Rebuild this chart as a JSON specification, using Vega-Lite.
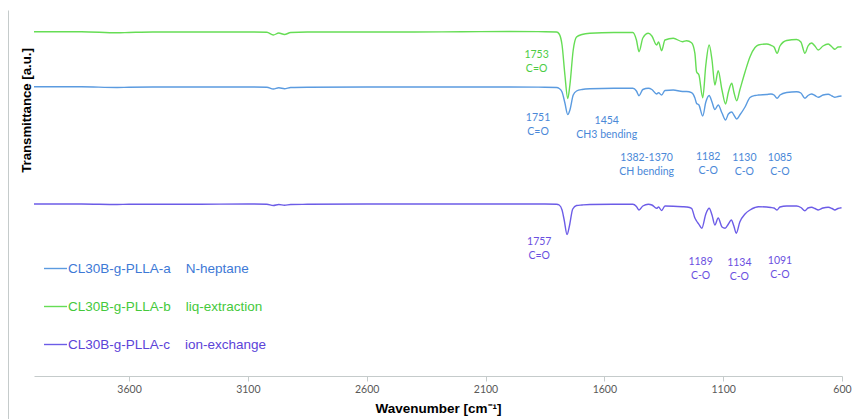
{
  "$schema": "https://vega.github.io/schema/vega-lite/v6.json",
  "width": 808,
  "height": 409,
  "autosize": {"type": "none"},
  "padding": {"left": 34, "top": 10, "right": 16, "bottom": 0},
  "background": "#ffffff",
  "config": {"view": {"stroke": null}},
  "datasets": {
    "spectra": [
      {"sample":"CL30B-g-PLLA-b","w":4000,"t":344.3},{"sample":"CL30B-g-PLLA-b","w":3800,"t":344.3},{"sample":"CL30B-g-PLLA-b","w":3650,"t":343.2},{"sample":"CL30B-g-PLLA-b","w":3600,"t":343.5},{"sample":"CL30B-g-PLLA-b","w":3500,"t":344},{"sample":"CL30B-g-PLLA-b","w":3300,"t":344},{"sample":"CL30B-g-PLLA-b","w":3100,"t":344},{"sample":"CL30B-g-PLLA-b","w":3020,"t":343.7},{"sample":"CL30B-g-PLLA-b","w":2993,"t":341},{"sample":"CL30B-g-PLLA-b","w":2970,"t":343},{"sample":"CL30B-g-PLLA-b","w":2946,"t":341.5},{"sample":"CL30B-g-PLLA-b","w":2920,"t":343.5},{"sample":"CL30B-g-PLLA-b","w":2850,"t":344},{"sample":"CL30B-g-PLLA-b","w":2600,"t":344},{"sample":"CL30B-g-PLLA-b","w":2400,"t":344},{"sample":"CL30B-g-PLLA-b","w":2200,"t":344.2},{"sample":"CL30B-g-PLLA-b","w":2000,"t":344.5},{"sample":"CL30B-g-PLLA-b","w":1850,"t":344.3},{"sample":"CL30B-g-PLLA-b","w":1801,"t":344},{"sample":"CL30B-g-PLLA-b","w":1790,"t":342},{"sample":"CL30B-g-PLLA-b","w":1778,"t":331},{"sample":"CL30B-g-PLLA-b","w":1766,"t":301},{"sample":"CL30B-g-PLLA-b","w":1754,"t":277.5},{"sample":"CL30B-g-PLLA-b","w":1745,"t":291},{"sample":"CL30B-g-PLLA-b","w":1731,"t":326},{"sample":"CL30B-g-PLLA-b","w":1717,"t":339},{"sample":"CL30B-g-PLLA-b","w":1694,"t":341.5},{"sample":"CL30B-g-PLLA-b","w":1661,"t":342.7},{"sample":"CL30B-g-PLLA-b","w":1560,"t":343.5},{"sample":"CL30B-g-PLLA-b","w":1480,"t":343.5},{"sample":"CL30B-g-PLLA-b","w":1465,"t":336},{"sample":"CL30B-g-PLLA-b","w":1454,"t":324.3},{"sample":"CL30B-g-PLLA-b","w":1438,"t":338},{"sample":"CL30B-g-PLLA-b","w":1415,"t":342.7},{"sample":"CL30B-g-PLLA-b","w":1400,"t":340},{"sample":"CL30B-g-PLLA-b","w":1380,"t":331},{"sample":"CL30B-g-PLLA-b","w":1372,"t":334},{"sample":"CL30B-g-PLLA-b","w":1359,"t":325.3},{"sample":"CL30B-g-PLLA-b","w":1345,"t":336},{"sample":"CL30B-g-PLLA-b","w":1310,"t":337.7},{"sample":"CL30B-g-PLLA-b","w":1271,"t":334.3},{"sample":"CL30B-g-PLLA-b","w":1254,"t":335.3},{"sample":"CL30B-g-PLLA-b","w":1233,"t":333.3},{"sample":"CL30B-g-PLLA-b","w":1219,"t":322.7},{"sample":"CL30B-g-PLLA-b","w":1212,"t":304.3},{"sample":"CL30B-g-PLLA-b","w":1202,"t":301},{"sample":"CL30B-g-PLLA-b","w":1186,"t":278.3},{"sample":"CL30B-g-PLLA-b","w":1173,"t":311},{"sample":"CL30B-g-PLLA-b","w":1159,"t":331},{"sample":"CL30B-g-PLLA-b","w":1147,"t":316},{"sample":"CL30B-g-PLLA-b","w":1135,"t":291},{"sample":"CL30B-g-PLLA-b","w":1121,"t":305.3},{"sample":"CL30B-g-PLLA-b","w":1105,"t":286},{"sample":"CL30B-g-PLLA-b","w":1090,"t":272},{"sample":"CL30B-g-PLLA-b","w":1078,"t":284},{"sample":"CL30B-g-PLLA-b","w":1064,"t":292.7},{"sample":"CL30B-g-PLLA-b","w":1055,"t":284},{"sample":"CL30B-g-PLLA-b","w":1043,"t":275.3},{"sample":"CL30B-g-PLLA-b","w":1030,"t":286},{"sample":"CL30B-g-PLLA-b","w":1008,"t":304},{"sample":"CL30B-g-PLLA-b","w":987,"t":319.3},{"sample":"CL30B-g-PLLA-b","w":966,"t":328.5},{"sample":"CL30B-g-PLLA-b","w":952,"t":331},{"sample":"CL30B-g-PLLA-b","w":917,"t":332},{"sample":"CL30B-g-PLLA-b","w":899,"t":330.7},{"sample":"CL30B-g-PLLA-b","w":886,"t":329},{"sample":"CL30B-g-PLLA-b","w":873,"t":322.7},{"sample":"CL30B-g-PLLA-b","w":861,"t":330},{"sample":"CL30B-g-PLLA-b","w":833,"t":335.5},{"sample":"CL30B-g-PLLA-b","w":791,"t":336.5},{"sample":"CL30B-g-PLLA-b","w":773,"t":334},{"sample":"CL30B-g-PLLA-b","w":756,"t":322.7},{"sample":"CL30B-g-PLLA-b","w":743,"t":330},{"sample":"CL30B-g-PLLA-b","w":728,"t":333},{"sample":"CL30B-g-PLLA-b","w":714,"t":330},{"sample":"CL30B-g-PLLA-b","w":700,"t":326},{"sample":"CL30B-g-PLLA-b","w":680,"t":330},{"sample":"CL30B-g-PLLA-b","w":658,"t":332},{"sample":"CL30B-g-PLLA-b","w":642,"t":329},{"sample":"CL30B-g-PLLA-b","w":630,"t":326.7},{"sample":"CL30B-g-PLLA-b","w":617,"t":329},{"sample":"CL30B-g-PLLA-b","w":602,"t":329.3},

      {"sample":"CL30B-g-PLLA-a","w":4000,"t":289.3},{"sample":"CL30B-g-PLLA-a","w":3800,"t":289.2},{"sample":"CL30B-g-PLLA-a","w":3650,"t":288.5},{"sample":"CL30B-g-PLLA-a","w":3600,"t":288.8},{"sample":"CL30B-g-PLLA-a","w":3500,"t":289},{"sample":"CL30B-g-PLLA-a","w":3300,"t":289},{"sample":"CL30B-g-PLLA-a","w":3100,"t":289},{"sample":"CL30B-g-PLLA-a","w":3020,"t":288.8},{"sample":"CL30B-g-PLLA-a","w":2993,"t":287},{"sample":"CL30B-g-PLLA-a","w":2970,"t":288.2},{"sample":"CL30B-g-PLLA-a","w":2946,"t":287.3},{"sample":"CL30B-g-PLLA-a","w":2920,"t":288.5},{"sample":"CL30B-g-PLLA-a","w":2850,"t":288.8},{"sample":"CL30B-g-PLLA-a","w":2600,"t":289},{"sample":"CL30B-g-PLLA-a","w":2400,"t":289},{"sample":"CL30B-g-PLLA-a","w":2200,"t":289},{"sample":"CL30B-g-PLLA-a","w":2000,"t":289},{"sample":"CL30B-g-PLLA-a","w":1850,"t":288.8},{"sample":"CL30B-g-PLLA-a","w":1801,"t":288.5},{"sample":"CL30B-g-PLLA-a","w":1790,"t":287.5},{"sample":"CL30B-g-PLLA-a","w":1778,"t":284},{"sample":"CL30B-g-PLLA-a","w":1766,"t":273},{"sample":"CL30B-g-PLLA-a","w":1754,"t":261.5},{"sample":"CL30B-g-PLLA-a","w":1745,"t":266},{"sample":"CL30B-g-PLLA-a","w":1731,"t":281},{"sample":"CL30B-g-PLLA-a","w":1717,"t":285},{"sample":"CL30B-g-PLLA-a","w":1694,"t":286.5},{"sample":"CL30B-g-PLLA-a","w":1661,"t":287.2},{"sample":"CL30B-g-PLLA-a","w":1560,"t":287.7},{"sample":"CL30B-g-PLLA-a","w":1480,"t":287.7},{"sample":"CL30B-g-PLLA-a","w":1465,"t":285},{"sample":"CL30B-g-PLLA-a","w":1454,"t":280.3},{"sample":"CL30B-g-PLLA-a","w":1438,"t":286.5},{"sample":"CL30B-g-PLLA-a","w":1415,"t":287.7},{"sample":"CL30B-g-PLLA-a","w":1400,"t":286.5},{"sample":"CL30B-g-PLLA-a","w":1380,"t":282},{"sample":"CL30B-g-PLLA-a","w":1372,"t":283.3},{"sample":"CL30B-g-PLLA-a","w":1359,"t":281},{"sample":"CL30B-g-PLLA-a","w":1345,"t":285.5},{"sample":"CL30B-g-PLLA-a","w":1310,"t":286},{"sample":"CL30B-g-PLLA-a","w":1271,"t":284.5},{"sample":"CL30B-g-PLLA-a","w":1254,"t":284.5},{"sample":"CL30B-g-PLLA-a","w":1233,"t":283.3},{"sample":"CL30B-g-PLLA-a","w":1219,"t":278},{"sample":"CL30B-g-PLLA-a","w":1212,"t":272.7},{"sample":"CL30B-g-PLLA-a","w":1202,"t":271},{"sample":"CL30B-g-PLLA-a","w":1186,"t":260},{"sample":"CL30B-g-PLLA-a","w":1173,"t":274},{"sample":"CL30B-g-PLLA-a","w":1159,"t":280.5},{"sample":"CL30B-g-PLLA-a","w":1147,"t":274},{"sample":"CL30B-g-PLLA-a","w":1135,"t":266.5},{"sample":"CL30B-g-PLLA-a","w":1121,"t":271},{"sample":"CL30B-g-PLLA-a","w":1105,"t":263},{"sample":"CL30B-g-PLLA-a","w":1090,"t":256},{"sample":"CL30B-g-PLLA-a","w":1078,"t":262},{"sample":"CL30B-g-PLLA-a","w":1064,"t":264},{"sample":"CL30B-g-PLLA-a","w":1055,"t":261},{"sample":"CL30B-g-PLLA-a","w":1043,"t":257},{"sample":"CL30B-g-PLLA-a","w":1030,"t":261},{"sample":"CL30B-g-PLLA-a","w":1008,"t":269},{"sample":"CL30B-g-PLLA-a","w":987,"t":278.5},{"sample":"CL30B-g-PLLA-a","w":966,"t":280.5},{"sample":"CL30B-g-PLLA-a","w":952,"t":281},{"sample":"CL30B-g-PLLA-a","w":917,"t":281.5},{"sample":"CL30B-g-PLLA-a","w":899,"t":282},{"sample":"CL30B-g-PLLA-a","w":886,"t":281},{"sample":"CL30B-g-PLLA-a","w":873,"t":277.7},{"sample":"CL30B-g-PLLA-a","w":861,"t":281},{"sample":"CL30B-g-PLLA-a","w":833,"t":283.5},{"sample":"CL30B-g-PLLA-a","w":791,"t":284.3},{"sample":"CL30B-g-PLLA-a","w":773,"t":283},{"sample":"CL30B-g-PLLA-a","w":756,"t":277.7},{"sample":"CL30B-g-PLLA-a","w":743,"t":280.5},{"sample":"CL30B-g-PLLA-a","w":728,"t":282},{"sample":"CL30B-g-PLLA-a","w":714,"t":280.5},{"sample":"CL30B-g-PLLA-a","w":700,"t":278.7},{"sample":"CL30B-g-PLLA-a","w":680,"t":281},{"sample":"CL30B-g-PLLA-a","w":658,"t":281.8},{"sample":"CL30B-g-PLLA-a","w":642,"t":280},{"sample":"CL30B-g-PLLA-a","w":630,"t":278.7},{"sample":"CL30B-g-PLLA-a","w":617,"t":279.5},{"sample":"CL30B-g-PLLA-a","w":602,"t":280},

      {"sample":"CL30B-g-PLLA-c","w":4000,"t":172},{"sample":"CL30B-g-PLLA-c","w":3800,"t":172},{"sample":"CL30B-g-PLLA-c","w":3650,"t":171.5},{"sample":"CL30B-g-PLLA-c","w":3600,"t":171.7},{"sample":"CL30B-g-PLLA-c","w":3500,"t":171.7},{"sample":"CL30B-g-PLLA-c","w":3300,"t":171.8},{"sample":"CL30B-g-PLLA-c","w":3100,"t":172},{"sample":"CL30B-g-PLLA-c","w":3020,"t":171.8},{"sample":"CL30B-g-PLLA-c","w":2993,"t":170.5},{"sample":"CL30B-g-PLLA-c","w":2970,"t":171.5},{"sample":"CL30B-g-PLLA-c","w":2946,"t":170.8},{"sample":"CL30B-g-PLLA-c","w":2920,"t":171.5},{"sample":"CL30B-g-PLLA-c","w":2850,"t":171.7},{"sample":"CL30B-g-PLLA-c","w":2600,"t":172},{"sample":"CL30B-g-PLLA-c","w":2400,"t":172},{"sample":"CL30B-g-PLLA-c","w":2200,"t":172},{"sample":"CL30B-g-PLLA-c","w":2000,"t":172},{"sample":"CL30B-g-PLLA-c","w":1850,"t":172},{"sample":"CL30B-g-PLLA-c","w":1801,"t":171.8},{"sample":"CL30B-g-PLLA-c","w":1790,"t":171},{"sample":"CL30B-g-PLLA-c","w":1778,"t":166},{"sample":"CL30B-g-PLLA-c","w":1769,"t":156},{"sample":"CL30B-g-PLLA-c","w":1757,"t":141.5},{"sample":"CL30B-g-PLLA-c","w":1747,"t":150},{"sample":"CL30B-g-PLLA-c","w":1733,"t":167},{"sample":"CL30B-g-PLLA-c","w":1717,"t":170.5},{"sample":"CL30B-g-PLLA-c","w":1694,"t":171},{"sample":"CL30B-g-PLLA-c","w":1661,"t":171.5},{"sample":"CL30B-g-PLLA-c","w":1560,"t":171.7},{"sample":"CL30B-g-PLLA-c","w":1480,"t":171.7},{"sample":"CL30B-g-PLLA-c","w":1465,"t":169.5},{"sample":"CL30B-g-PLLA-c","w":1454,"t":166},{"sample":"CL30B-g-PLLA-c","w":1438,"t":170},{"sample":"CL30B-g-PLLA-c","w":1415,"t":171.7},{"sample":"CL30B-g-PLLA-c","w":1400,"t":171},{"sample":"CL30B-g-PLLA-c","w":1380,"t":167.7},{"sample":"CL30B-g-PLLA-c","w":1372,"t":169},{"sample":"CL30B-g-PLLA-c","w":1359,"t":165.5},{"sample":"CL30B-g-PLLA-c","w":1345,"t":170},{"sample":"CL30B-g-PLLA-c","w":1310,"t":169.8},{"sample":"CL30B-g-PLLA-c","w":1271,"t":169.3},{"sample":"CL30B-g-PLLA-c","w":1254,"t":169},{"sample":"CL30B-g-PLLA-c","w":1233,"t":167.7},{"sample":"CL30B-g-PLLA-c","w":1219,"t":158},{"sample":"CL30B-g-PLLA-c","w":1212,"t":155},{"sample":"CL30B-g-PLLA-c","w":1202,"t":151.7},{"sample":"CL30B-g-PLLA-c","w":1190,"t":147.7},{"sample":"CL30B-g-PLLA-c","w":1173,"t":162},{"sample":"CL30B-g-PLLA-c","w":1159,"t":167.7},{"sample":"CL30B-g-PLLA-c","w":1147,"t":161},{"sample":"CL30B-g-PLLA-c","w":1135,"t":151},{"sample":"CL30B-g-PLLA-c","w":1121,"t":158},{"sample":"CL30B-g-PLLA-c","w":1105,"t":149},{"sample":"CL30B-g-PLLA-c","w":1092,"t":147.7},{"sample":"CL30B-g-PLLA-c","w":1078,"t":152},{"sample":"CL30B-g-PLLA-c","w":1066,"t":156},{"sample":"CL30B-g-PLLA-c","w":1055,"t":150},{"sample":"CL30B-g-PLLA-c","w":1045,"t":142.7},{"sample":"CL30B-g-PLLA-c","w":1030,"t":154},{"sample":"CL30B-g-PLLA-c","w":1008,"t":162},{"sample":"CL30B-g-PLLA-c","w":987,"t":166},{"sample":"CL30B-g-PLLA-c","w":966,"t":168.5},{"sample":"CL30B-g-PLLA-c","w":952,"t":169.3},{"sample":"CL30B-g-PLLA-c","w":917,"t":169},{"sample":"CL30B-g-PLLA-c","w":899,"t":168.5},{"sample":"CL30B-g-PLLA-c","w":886,"t":168},{"sample":"CL30B-g-PLLA-c","w":873,"t":166},{"sample":"CL30B-g-PLLA-c","w":861,"t":169},{"sample":"CL30B-g-PLLA-c","w":833,"t":170},{"sample":"CL30B-g-PLLA-c","w":791,"t":170},{"sample":"CL30B-g-PLLA-c","w":773,"t":168.5},{"sample":"CL30B-g-PLLA-c","w":756,"t":165.3},{"sample":"CL30B-g-PLLA-c","w":743,"t":168},{"sample":"CL30B-g-PLLA-c","w":728,"t":168.7},{"sample":"CL30B-g-PLLA-c","w":714,"t":167.5},{"sample":"CL30B-g-PLLA-c","w":700,"t":166},{"sample":"CL30B-g-PLLA-c","w":680,"t":168},{"sample":"CL30B-g-PLLA-c","w":658,"t":168.7},{"sample":"CL30B-g-PLLA-c","w":642,"t":167.5},{"sample":"CL30B-g-PLLA-c","w":630,"t":166},{"sample":"CL30B-g-PLLA-c","w":617,"t":167.5},{"sample":"CL30B-g-PLLA-c","w":602,"t":168.3}
    ],
    "notes": [
      {"sample":"CL30B-g-PLLA-b","w":1885,"t":320.8,"label":"1753\nC=O"},
      {"sample":"CL30B-g-PLLA-a","w":1879,"t":257.7,"label":"1751\nC=O"},
      {"sample":"CL30B-g-PLLA-a","w":1590,"t":255.3,"label":"1454\nCH3 bending"},
      {"sample":"CL30B-g-PLLA-a","w":1422,"t":218.5,"label":"1382-1370\nCH bending"},
      {"sample":"CL30B-g-PLLA-a","w":1163,"t":218.8,"label":"1182\nC-O"},
      {"sample":"CL30B-g-PLLA-a","w":1011,"t":218,"label":"1130\nC-O"},
      {"sample":"CL30B-g-PLLA-a","w":861,"t":218,"label":"1085\nC-O"},
      {"sample":"CL30B-g-PLLA-c","w":1874,"t":133.8,"label":"1757\nC=O"},
      {"sample":"CL30B-g-PLLA-c","w":1195,"t":114.3,"label":"1189\nC-O"},
      {"sample":"CL30B-g-PLLA-c","w":1032,"t":113.2,"label":"1134\nC-O"},
      {"sample":"CL30B-g-PLLA-c","w":861,"t":114.7,"label":"1091\nC-O"}
    ]
  },
  "layer": [
    {
      "data": {"name": "spectra"},
      "mark": {"type": "line", "strokeWidth": 1.4, "interpolate": "monotone"},
      "encoding": {
        "x": {
          "field": "w", "type": "quantitative",
          "scale": {"domain": [600, 4000], "reverse": true, "nice": false, "zero": false},
          "axis": {
            "title": "Wavenumber [cm⁻¹]",
            "values": [3600, 3100, 2600, 2100, 1600, 1100, 600],
            "format": "d", "grid": false, "offset": -43, "labelFlush": false,
            "domainColor": "#c5cbcb", "tickColor": "#c5cbcb", "tickSize": 5,
            "labelFont": "Lato", "labelFontSize": 10.5, "labelColor": "#595959", "labelPadding": 3,
            "titleFont": "Liberation Sans", "titleFontSize": 13.5, "titleFontWeight": "bold",
            "titleColor": "#000000", "titlePadding": 7
          }
        },
        "y": {
          "field": "t", "type": "quantitative",
          "scale": {"domain": [-43, 366], "nice": false, "zero": false},
          "axis": {
            "title": "Transmittance [a.u.]", "orient": "left", "offset": 26,
            "domain": true, "domainColor": "#c5cbcb", "ticks": false, "labels": false, "grid": false,
            "titleX": 22, "titleY": 100, "titleBaseline": "alphabetic",
            "titleFont": "Liberation Sans", "titleFontSize": 13.2, "titleFontWeight": "bold", "titleColor": "#000000"
          }
        },
        "color": {
          "field": "sample", "type": "nominal",
          "scale": {"domain": ["CL30B-g-PLLA-a", "CL30B-g-PLLA-b", "CL30B-g-PLLA-c"], "range": ["#5b9be0", "#66dd55", "#6c5ce7"]},
          "legend": {
            "orient": "none", "legendX": 9, "legendY": 246, "title": null, "padding": 0,
            "symbolType": "stroke", "symbolSize": 529, "symbolStrokeWidth": 1.4,
            "labelFont": "Liberation Sans", "labelFontSize": 13.5, "labelOffset": 0, "labelLimit": 400,
            "rowPadding": 19,
            "labelExpr": "datum.value == 'CL30B-g-PLLA-a' ? 'CL30B-g-PLLA-a\u00a0\u00a0\u00a0 N-heptane' : datum.value == 'CL30B-g-PLLA-b' ? 'CL30B-g-PLLA-b\u00a0\u00a0\u00a0 liq-extraction' : 'CL30B-g-PLLA-c\u00a0\u00a0\u00a0 ion-exchange'",
            "labelColor": {"expr": "datum.value == 'CL30B-g-PLLA-a' ? '#3d79d6' : datum.value == 'CL30B-g-PLLA-b' ? '#44c93c' : '#5b43d8'"}
          }
        }
      }
    },
    {
      "data": {"name": "notes"},
      "mark": {"type": "text", "font": "Lato", "fontSize": 10.5, "lineBreak": "\n", "lineHeight": 14, "align": "center", "baseline": "middle"},
      "encoding": {
        "x": {"field": "w", "type": "quantitative"},
        "y": {"field": "t", "type": "quantitative"},
        "text": {"field": "label", "type": "nominal"},
        "fill": {
          "field": "sample", "type": "nominal",
          "scale": {"domain": ["CL30B-g-PLLA-a", "CL30B-g-PLLA-b", "CL30B-g-PLLA-c"], "range": ["#4a88d8", "#4ccc44", "#6a4fe0"]},
          "legend": null
        }
      }
    }
  ]
}
